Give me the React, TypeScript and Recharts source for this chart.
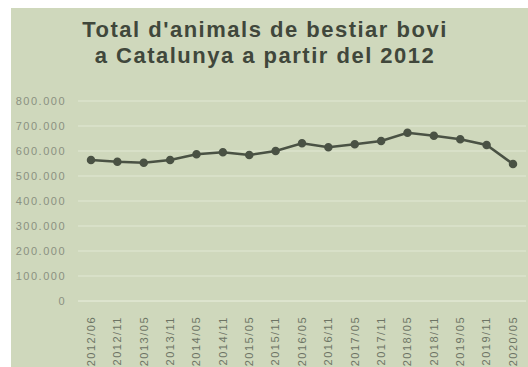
import { LineChart, Line, XAxis, YAxis, CartesianGrid } from "recharts";

const periods = [
  "2012/06", "2012/11", "2013/05", "2013/11", "2014/05", "2014/11",
  "2015/05", "2015/11", "2016/05", "2016/11", "2017/05", "2017/11",
  "2018/05", "2018/11", "2019/05", "2019/11", "2020/05",
];

const totalCaps = [
  564000, 557000, 553000, 564000, 587000, 595000,
  584000, 600000, 631000, 615000, 627000, 640000,
  673000, 661000, 647000, 624000, 548000,
];

const yTicks = [0, 100000, 200000, 300000, 400000, 500000, 600000, 700000, 800000];

const data = periods.map((p, i) => ({ period: p, total: totalCaps[i] }));

const fmt = (v: number) => (v === 0 ? "0" : v.toLocaleString("de-DE"));

function RotatedTick({ x, y, payload }: any) {
  return (
    <g transform={`translate(${x},${y})`}>
      <text
        transform="rotate(-90)"
        x={-7}
        dy="0.35em"
        textAnchor="end"
        fontSize={11}
        letterSpacing={1.5}
        fill="#6d7464"
        fontFamily="Liberation Sans, Arial, sans-serif"
      >
        {payload.value}
      </text>
    </g>
  );
}

export default function App() {
  return (
    <div style={{ position: "fixed", left: 0, top: 0, width: 528, height: 367, background: "#fff" }}>
      <div
        style={{
          position: "absolute",
          left: 11,
          top: 8,
          width: 517,
          height: 359,
          background: "#cfd8bc",
          fontFamily: "Liberation Sans, Arial, sans-serif",
        }}
      >
        <div
          style={{
            position: "absolute",
            left: 0,
            top: 9,
            width: 508,
            textAlign: "center",
            fontSize: 22,
            fontWeight: "bold",
            lineHeight: "26px",
            color: "#40473b",
            letterSpacing: 1.5,
          }}
        >
          Total d'animals de bestiar bovi
          <br />a Catalunya a partir del 2012
        </div>
        <LineChart
          width={517}
          height={359}
          data={data}
          margin={{ top: 93, right: 2, bottom: 0, left: 0 }}
          style={{ position: "absolute", left: 0, top: 0 }}
        >
          <CartesianGrid vertical={false} stroke="#e1e7d3" strokeWidth={1.2} />
          <XAxis
            dataKey="period"
            height={66}
            interval={0}
            padding={{ left: 13, right: 13 }}
            tickLine={false}
            axisLine={{ stroke: "#e1e7d3" }}
            tick={<RotatedTick />}
          />
          <YAxis
            width={67}
            domain={[0, 800000]}
            ticks={yTicks}
            tickFormatter={fmt}
            tickLine={false}
            axisLine={false}
            tickSize={0}
            tickMargin={12}
            tick={{ fontSize: 11, fill: "#8b9181", letterSpacing: 1.5 }}
          />
          <Line
            type="linear"
            dataKey="total"
            stroke="#4a5244"
            strokeWidth={2.5}
            dot={{ r: 3, fill: "#4a5244", stroke: "#4a5244" }}
            isAnimationActive={false}
          />
        </LineChart>
      </div>
    </div>
  );
}
